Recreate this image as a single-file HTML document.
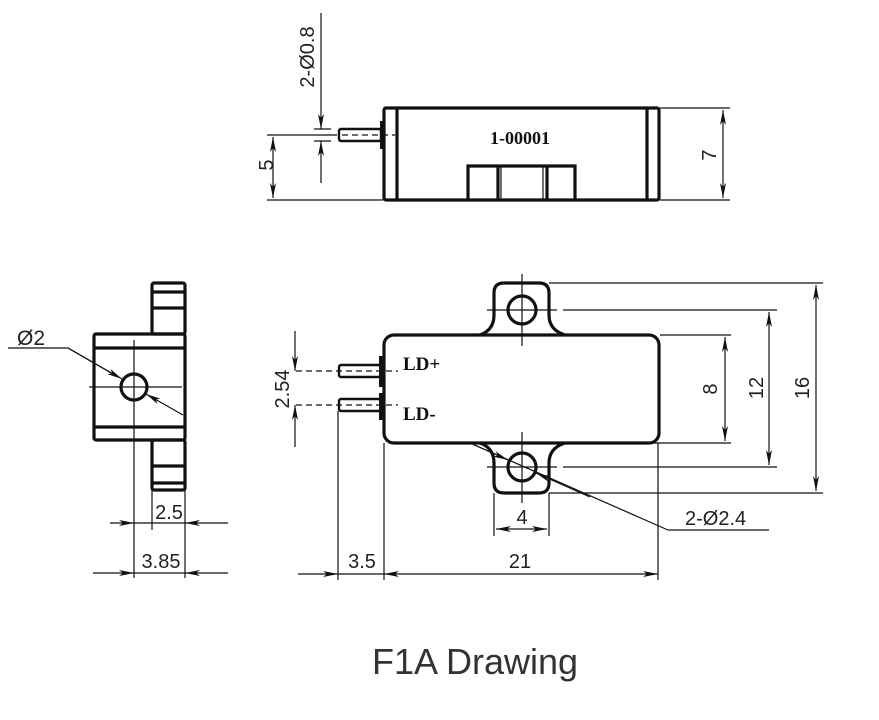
<!DOCTYPE html>
<html><head><meta charset="utf-8"><style>
html,body{margin:0;padding:0;background:#fff;}
svg{display:block}
text{font-family:"Liberation Sans",sans-serif;fill:#222;}
.b{fill:none;stroke:#111;stroke-width:3.2;}
.t{fill:none;stroke:#111;stroke-width:1.2;}
.d{fill:none;stroke:#111;stroke-width:1.2;stroke-dasharray:6 4;}
.lbl{font-family:"Liberation Serif",serif;font-weight:bold;fill:#111;}
</style></head><body>
<svg width="879" height="720" viewBox="0 0 879 720" xmlns="http://www.w3.org/2000/svg">
<defs>
<marker id="a" viewBox="0 0 15 6" refX="15" refY="3" markerWidth="15" markerHeight="6" markerUnits="userSpaceOnUse" orient="auto-start-reverse">
<path d="M0,0 L15,3 L0,6 L4,3 Z" fill="#111"/>
</marker>
</defs>

<!-- TOP VIEW -->
<rect class="b" x="384" y="108" width="275" height="92" rx="2"/>
<line class="b" x1="397" y1="108" x2="397" y2="200"/>
<line class="b" x1="647" y1="108" x2="647" y2="200"/>
<path class="b" d="M468,200 V166 H575 V200"/>
<line class="b" x1="498" y1="166" x2="498" y2="200"/>
<line class="t" x1="501" y1="166" x2="501" y2="200"/>
<line class="t" x1="543" y1="166" x2="543" y2="200"/>
<line class="b" x1="547" y1="166" x2="547" y2="200"/>
<rect class="b" x="339" y="129" width="42" height="12" rx="2" style="stroke-width:2.4"/>
<rect x="380" y="121" width="5" height="28" fill="#111"/>
<line class="d" x1="342" y1="135" x2="395" y2="135"/>
<text class="lbl" x="520" y="144" font-size="18" text-anchor="middle">1-00001</text>
<!-- dim 5 -->
<line class="t" x1="267" y1="135" x2="337" y2="135"/>
<line class="t" x1="267" y1="200" x2="383" y2="200"/>
<line class="t" x1="273" y1="137" x2="273" y2="198" marker-start="url(#a)" marker-end="url(#a)"/>
<text x="266" y="165" font-size="20" text-anchor="middle" transform="rotate(-90 266 165)" dy="7">5</text>
<!-- 2-Ø0.8 -->
<line class="t" x1="314" y1="129" x2="331" y2="129"/>
<line class="t" x1="314" y1="141" x2="331" y2="141"/>
<line class="t" x1="321" y1="13" x2="321" y2="129" marker-end="url(#a)"/>
<line class="t" x1="321" y1="183" x2="321" y2="141" marker-end="url(#a)"/>
<text x="307" y="57" font-size="20" text-anchor="middle" transform="rotate(-90 307 57)" dy="7">2-Ø0.8</text>
<!-- dim 7 -->
<line class="t" x1="660" y1="108" x2="730" y2="108"/>
<line class="t" x1="660" y1="200" x2="730" y2="200"/>
<line class="t" x1="723" y1="110" x2="723" y2="198" marker-start="url(#a)" marker-end="url(#a)"/>
<text x="709" y="155" font-size="20" text-anchor="middle" transform="rotate(-90 709 155)" dy="7">7</text>

<!-- LEFT END VIEW -->
<rect class="b" x="152" y="283" width="33" height="51" rx="2"/>
<line class="b" x1="152" y1="292" x2="185" y2="292"/>
<line class="b" x1="152" y1="308" x2="185" y2="308"/>
<rect class="b" x="152" y="440" width="33" height="50" rx="2"/>
<line class="b" x1="152" y1="466" x2="185" y2="466"/>
<line class="b" x1="152" y1="483" x2="185" y2="483"/>
<rect class="b" x="94" y="334" width="91" height="106" rx="2" fill="#fff"/>
<line class="b" x1="94" y1="348" x2="185" y2="348"/>
<line class="b" x1="94" y1="427" x2="185" y2="427"/>
<circle class="b" cx="134" cy="387" r="13"/>
<line class="t" x1="134" y1="340" x2="134" y2="433"/>
<line class="t" x1="89" y1="387" x2="182" y2="387"/>
<polyline class="t" points="8,348 68,348 118,377"/>
<line class="t" x1="68" y1="348" x2="122" y2="379" marker-end="url(#a)"/>
<line class="t" x1="183" y1="415" x2="146" y2="394" marker-end="url(#a)"/>
<text x="17" y="345" font-size="21">Ø2</text>
<!-- dims 2.5 / 3.85 -->
<line class="t" x1="134" y1="433" x2="134" y2="578"/>
<line class="t" x1="152" y1="490" x2="152" y2="530"/>
<line class="t" x1="185" y1="490" x2="185" y2="578"/>
<line class="t" x1="110" y1="523" x2="134" y2="523" marker-end="url(#a)"/>
<line class="t" x1="228" y1="523" x2="185" y2="523" marker-end="url(#a)"/>
<line class="t" x1="134" y1="523" x2="185" y2="523"/>
<text x="169" y="519" font-size="20" text-anchor="middle">2.5</text>
<line class="t" x1="93" y1="573" x2="134" y2="573" marker-end="url(#a)"/>
<line class="t" x1="228" y1="573" x2="185" y2="573" marker-end="url(#a)"/>
<line class="t" x1="134" y1="573" x2="185" y2="573"/>
<text x="161" y="568" font-size="20" text-anchor="middle">3.85</text>

<!-- MAIN VIEW -->
<path class="b" d="M480,335 Q494,330 494,315 V293 Q494,283 504,283 H539 Q549,283 549,293 V315 Q549,330 565,335"/>
<path class="b" d="M480,443 Q494,448 494,463 V483 Q494,493 504,493 H539 Q549,493 549,483 V463 Q549,448 565,443"/>
<rect class="b" x="384" y="335" width="275" height="108" rx="10"/>
<circle class="b" cx="522" cy="310" r="14"/>
<circle class="b" cx="522" cy="467" r="14"/>
<line class="t" x1="522" y1="274" x2="522" y2="346"/>
<line class="t" x1="522" y1="432" x2="522" y2="503"/>
<line class="t" x1="487" y1="310" x2="557" y2="310"/>
<line class="t" x1="487" y1="467" x2="557" y2="467"/>
<!-- pins -->
<rect class="b" x="339" y="365" width="42" height="12" rx="2" style="stroke-width:2.4"/>
<rect class="b" x="339" y="399" width="42" height="12" rx="2" style="stroke-width:2.4"/>
<rect x="379" y="356" width="5" height="31" fill="#111"/>
<rect x="379" y="393" width="5" height="27" fill="#111"/>
<line class="d" x1="296" y1="371" x2="398" y2="371"/>
<line class="d" x1="296" y1="405" x2="398" y2="405"/>
<text class="lbl" x="403" y="370" font-size="19">LD+</text>
<text class="lbl" x="403" y="420" font-size="19">LD-</text>
<!-- 2.54 -->
<line class="t" x1="295" y1="331" x2="295" y2="371" marker-end="url(#a)"/>
<line class="t" x1="295" y1="447" x2="295" y2="405" marker-end="url(#a)"/>
<text x="282" y="389" font-size="20" text-anchor="middle" transform="rotate(-90 282 389)" dy="7">2.54</text>
<!-- 8, 12, 16 -->
<line class="t" x1="660" y1="335" x2="731" y2="335"/>
<line class="t" x1="650" y1="443" x2="731" y2="443"/>
<line class="t" x1="725" y1="337" x2="725" y2="441" marker-start="url(#a)" marker-end="url(#a)"/>
<text x="710" y="389" font-size="20" text-anchor="middle" transform="rotate(-90 710 389)" dy="7">8</text>
<line class="t" x1="563" y1="310" x2="777" y2="310"/>
<line class="t" x1="563" y1="467" x2="777" y2="467"/>
<line class="t" x1="769" y1="312" x2="769" y2="465" marker-start="url(#a)" marker-end="url(#a)"/>
<text x="756" y="388" font-size="20" text-anchor="middle" transform="rotate(-90 756 388)" dy="7">12</text>
<line class="t" x1="549" y1="283" x2="823" y2="283"/>
<line class="t" x1="549" y1="493" x2="823" y2="493"/>
<line class="t" x1="816" y1="285" x2="816" y2="491" marker-start="url(#a)" marker-end="url(#a)"/>
<text x="802" y="388" font-size="20" text-anchor="middle" transform="rotate(-90 802 388)" dy="7">16</text>
<!-- 4 -->
<line class="t" x1="494" y1="493" x2="494" y2="536"/>
<line class="t" x1="549" y1="493" x2="549" y2="536"/>
<line class="t" x1="496" y1="529" x2="547" y2="529" marker-start="url(#a)" marker-end="url(#a)"/>
<text x="522" y="524" font-size="20" text-anchor="middle">4</text>
<!-- 2-Ø2.4 leader -->
<line class="t" x1="470" y1="443" x2="668" y2="530"/>
<line class="t" x1="470" y1="443" x2="508" y2="460" marker-end="url(#a)"/>
<line class="t" x1="590" y1="497" x2="536" y2="473" marker-end="url(#a)"/>
<line class="t" x1="668" y1="530" x2="769" y2="530"/>
<text x="685" y="525" font-size="20">2-Ø2.4</text>
<!-- 3.5 / 21 -->
<line class="t" x1="338" y1="411" x2="338" y2="580"/>
<line class="t" x1="384" y1="443" x2="384" y2="580"/>
<line class="t" x1="658" y1="443" x2="658" y2="580"/>
<line class="t" x1="298" y1="574" x2="338" y2="574" marker-end="url(#a)"/>
<line class="t" x1="338" y1="574" x2="384" y2="574"/>
<line class="t" x1="384" y1="574" x2="658" y2="574" marker-start="url(#a)" marker-end="url(#a)"/>
<text x="362" y="568" font-size="20" text-anchor="middle">3.5</text>
<text x="520" y="568" font-size="20" text-anchor="middle">21</text>

<text x="475" y="674" font-size="36" text-anchor="middle" style="fill:#333">F1A Drawing</text>
</svg>
</body></html>
